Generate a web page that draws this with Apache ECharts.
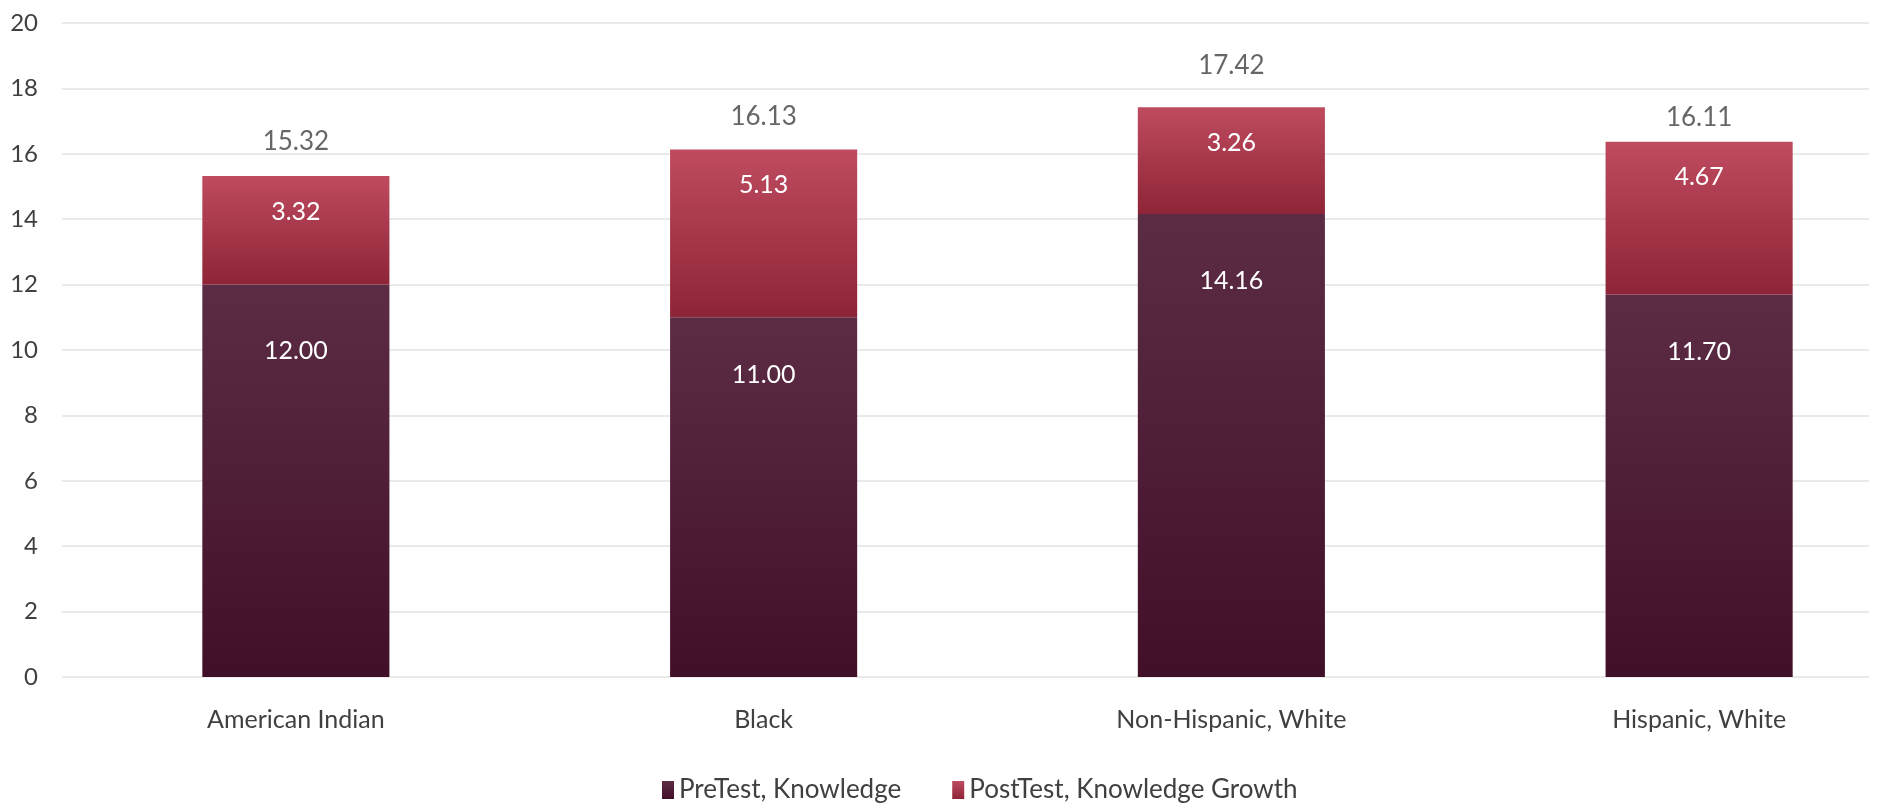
<!DOCTYPE html>
<html>
<head>
<meta charset="utf-8">
<script src="https://cdn.jsdelivr.net/npm/echarts@6/dist/echarts.min.js"></script>
<style>
html,body{margin:0;padding:0;background:#fff;overflow:hidden;}
#chart{width:1940px;height:807px;}
</style>
</head>
<body>
<div id="chart"></div>
<script>
// ---- data ----
const categories = ['American Indian', 'Black', 'Non-Hispanic, White', 'Hispanic, White'];
const preTest = [12.00, 11.00, 14.16, 11.70];
const postGrowth = [3.32, 5.13, 3.26, 4.67];
const totalLabels = [15.32, 16.13, 17.42, 16.11];
const yTicks = [0, 2, 4, 6, 8, 10, 12, 14, 16, 18, 20];
const seriesNames = ['PreTest, Knowledge', 'PostTest, Knowledge Growth'];

// label placement tweaks (style only)
const preLabelDistance = [54, 45, 54, 45];
const totalLabelDistance = [21, 19, 28, 19];

const FONT = 'Lato';
const TXT = '#404040';

const chart = echarts.init(document.getElementById('chart'), null, {renderer: 'canvas'});

const grad = (top, bottom) => new echarts.graphic.LinearGradient(0, 0, 0, 1, [
  {offset: 0, color: top}, {offset: 1, color: bottom}
]);

const option = {
  backgroundColor: '#ffffff',
  animation: false,
  textStyle: {fontFamily: FONT},
  grid: [
    {left: 62, right: 71, top: 23, bottom: 130, containLabel: false},
    {left: 62, right: 7, top: 23, bottom: 130, containLabel: false}
  ],
  xAxis: [
    {gridIndex: 0, type: 'value', show: false, min: 0, max: 1},
    {
      gridIndex: 1, type: 'category', data: categories,
      axisLine: {show: false}, axisTick: {show: false},
      axisLabel: {color: TXT, fontSize: 25, fontFamily: FONT, margin: 30}
    }
  ],
  yAxis: [
    {
      gridIndex: 0, type: 'value', min: yTicks[0], max: yTicks[yTicks.length - 1], interval: 2,
      axisLine: {show: false}, axisTick: {show: false},
      axisLabel: {color: TXT, fontSize: 24, fontFamily: FONT, margin: 24},
      splitLine: {show: true, lineStyle: {color: '#e3e3e3', width: 1.5}}
    },
    {
      gridIndex: 1, type: 'value', min: yTicks[0], max: yTicks[yTicks.length - 1],
      show: false, splitLine: {show: false}
    }
  ],
  legend: {
    data: seriesNames,
    left: 657, top: 772,
    itemWidth: 12, itemHeight: 18, itemGap: 51,
    icon: 'rect',
    textStyle: {color: TXT, fontSize: 26, fontFamily: FONT}
  },
  series: [
    {
      name: seriesNames[0], type: 'bar', stack: 'total',
      xAxisIndex: 1, yAxisIndex: 1,
      barWidth: '40%',
      data: preTest.map((v, i) => ({value: v, label: {distance: preLabelDistance[i]}})),
      itemStyle: {color: grad('#5c2c45', '#420f29')},
      label: {
        show: true, position: 'insideTop',
        color: '#ffffff', fontSize: 25, fontFamily: FONT,
        formatter: p => Number(p.value).toFixed(2)
      }
    },
    {
      name: seriesNames[1], type: 'bar', stack: 'total',
      xAxisIndex: 1, yAxisIndex: 1,
      barWidth: '40%',
      data: postGrowth,
      itemStyle: {color: grad('#bf4b5f', '#8e2437')},
      label: {
        show: true, position: 'insideTop', distance: 23,
        color: '#ffffff', fontSize: 25, fontFamily: FONT,
        formatter: p => Number(p.value).toFixed(2)
      }
    },
    {
      name: 'Total', type: 'scatter',
      xAxisIndex: 1, yAxisIndex: 1,
      symbolSize: 1,
      itemStyle: {color: 'rgba(0,0,0,0)'},
      data: totalLabels.map((v, i) => ({value: v, label: {distance: totalLabelDistance[i]}})),
      label: {
        show: true, position: 'top',
        color: TXT, fontSize: 26, fontFamily: FONT,
        formatter: p => Number(p.value).toFixed(2)
      },
      silent: true
    }
  ]
};

chart.setOption(option);
</script>
</body>
</html>
